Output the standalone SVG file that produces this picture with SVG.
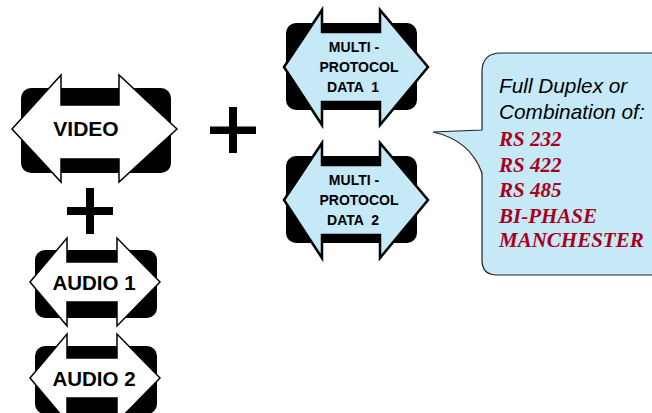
<svg xmlns="http://www.w3.org/2000/svg" width="652" height="413" viewBox="0 0 652 413">
<style>
.box{fill:#000;}
.warrow{fill:#fff;stroke:#000;stroke-width:1.5;stroke-linejoin:miter;}
.barrow{fill:#c6e9f8;stroke:#000;stroke-width:2.5;stroke-linejoin:miter;}
.lbl{font-family:"Liberation Sans",Arial,sans-serif;font-weight:bold;fill:#000;text-anchor:middle;}
.big{font-size:20.5px;}
.small{font-size:14px;}
.note{font-family:"Liberation Sans",Arial,sans-serif;font-style:italic;font-size:20.8px;fill:#000;}
.proto{font-family:"Liberation Serif","Times New Roman",serif;font-style:italic;font-weight:bold;font-size:21px;fill:#a8001c;}
.plus{fill:#000;}
</style>
<rect width="652" height="413" fill="#fff"/>
<g id="video">
<rect class="box" x="21" y="88" width="150" height="85" rx="10"/>
<polygon class="warrow" points="12,129 61,75 61,105 119,105 119,75 177,129 119,182 119,159 61,159 61,182"/>
<text class="lbl big" x="86" y="136" style="font-size:21px">VIDEO</text>
</g>
<g id="audio1">
<rect class="box" x="35" y="250" width="122" height="68" rx="10"/>
<polygon class="warrow" points="30,282 67,238 67,262 117,262 117,238 160,282 117,326 117,302 67,302 67,326"/>
<text class="lbl big" x="94" y="290">AUDIO 1</text>
</g>
<g id="audio2">
<rect class="box" x="35" y="346" width="122" height="68" rx="10"/>
<polygon class="warrow" points="30,378 67,334 67,358 117,358 117,334 160,378 117,422 117,398 67,398 67,422"/>
<text class="lbl big" x="94" y="386">AUDIO 2</text>
</g>
<g id="data1">
<rect class="box" x="286" y="23" width="131" height="87" rx="10"/>
<polygon class="barrow" points="284,67 322,10 322,32 380,32 380,10 428,67 380,125 380,102 322,102 322,125"/>
<text class="lbl small" x="354" y="52">MULTI -</text>
<text class="lbl small" x="359" y="72">PROTOCOL</text>
<text class="lbl small" x="353" y="92" xml:space="preserve">DATA  1</text>
</g>
<g id="data2">
<rect class="box" x="286" y="156" width="131" height="87" rx="10"/>
<polygon class="barrow" points="284,200 322,143 322,165 380,165 380,143 428,200 380,258 380,235 322,235 322,258"/>
<text class="lbl small" x="354" y="185">MULTI -</text>
<text class="lbl small" x="359" y="205">PROTOCOL</text>
<text class="lbl small" x="353" y="225" xml:space="preserve">DATA  2</text>
</g>
<g id="callout">
<path d="M 482,130 L 433,132 Q 470,140 482,173 L 482,260 Q 482,275 497,275 L 660,275 L 660,53 L 501,53 Q 482,53 482,72 Z" fill="#c6e9f8" stroke="#222" stroke-width="1.2"/>
<text class="note" x="499" y="93">Full Duplex or</text>
<text class="note" x="499" y="119">Combination of:</text>
<text class="proto" x="499" y="146">RS 232</text>
<text class="proto" x="499" y="172">RS 422</text>
<text class="proto" x="499" y="197">RS 485</text>
<text class="proto" x="499" y="223">BI-PHASE</text>
<text class="proto" x="499" y="247">MANCHESTER</text>
</g>
<g id="connectors">
<g id="plus1"><rect class="plus" x="229" y="107" width="8" height="46"/><rect class="plus" x="210" y="126.5" width="46" height="7.5"/></g>
<g id="plus2"><rect class="plus" x="86" y="188" width="8" height="46"/><rect class="plus" x="67" y="207" width="46" height="8"/></g>
</g>
</svg>
